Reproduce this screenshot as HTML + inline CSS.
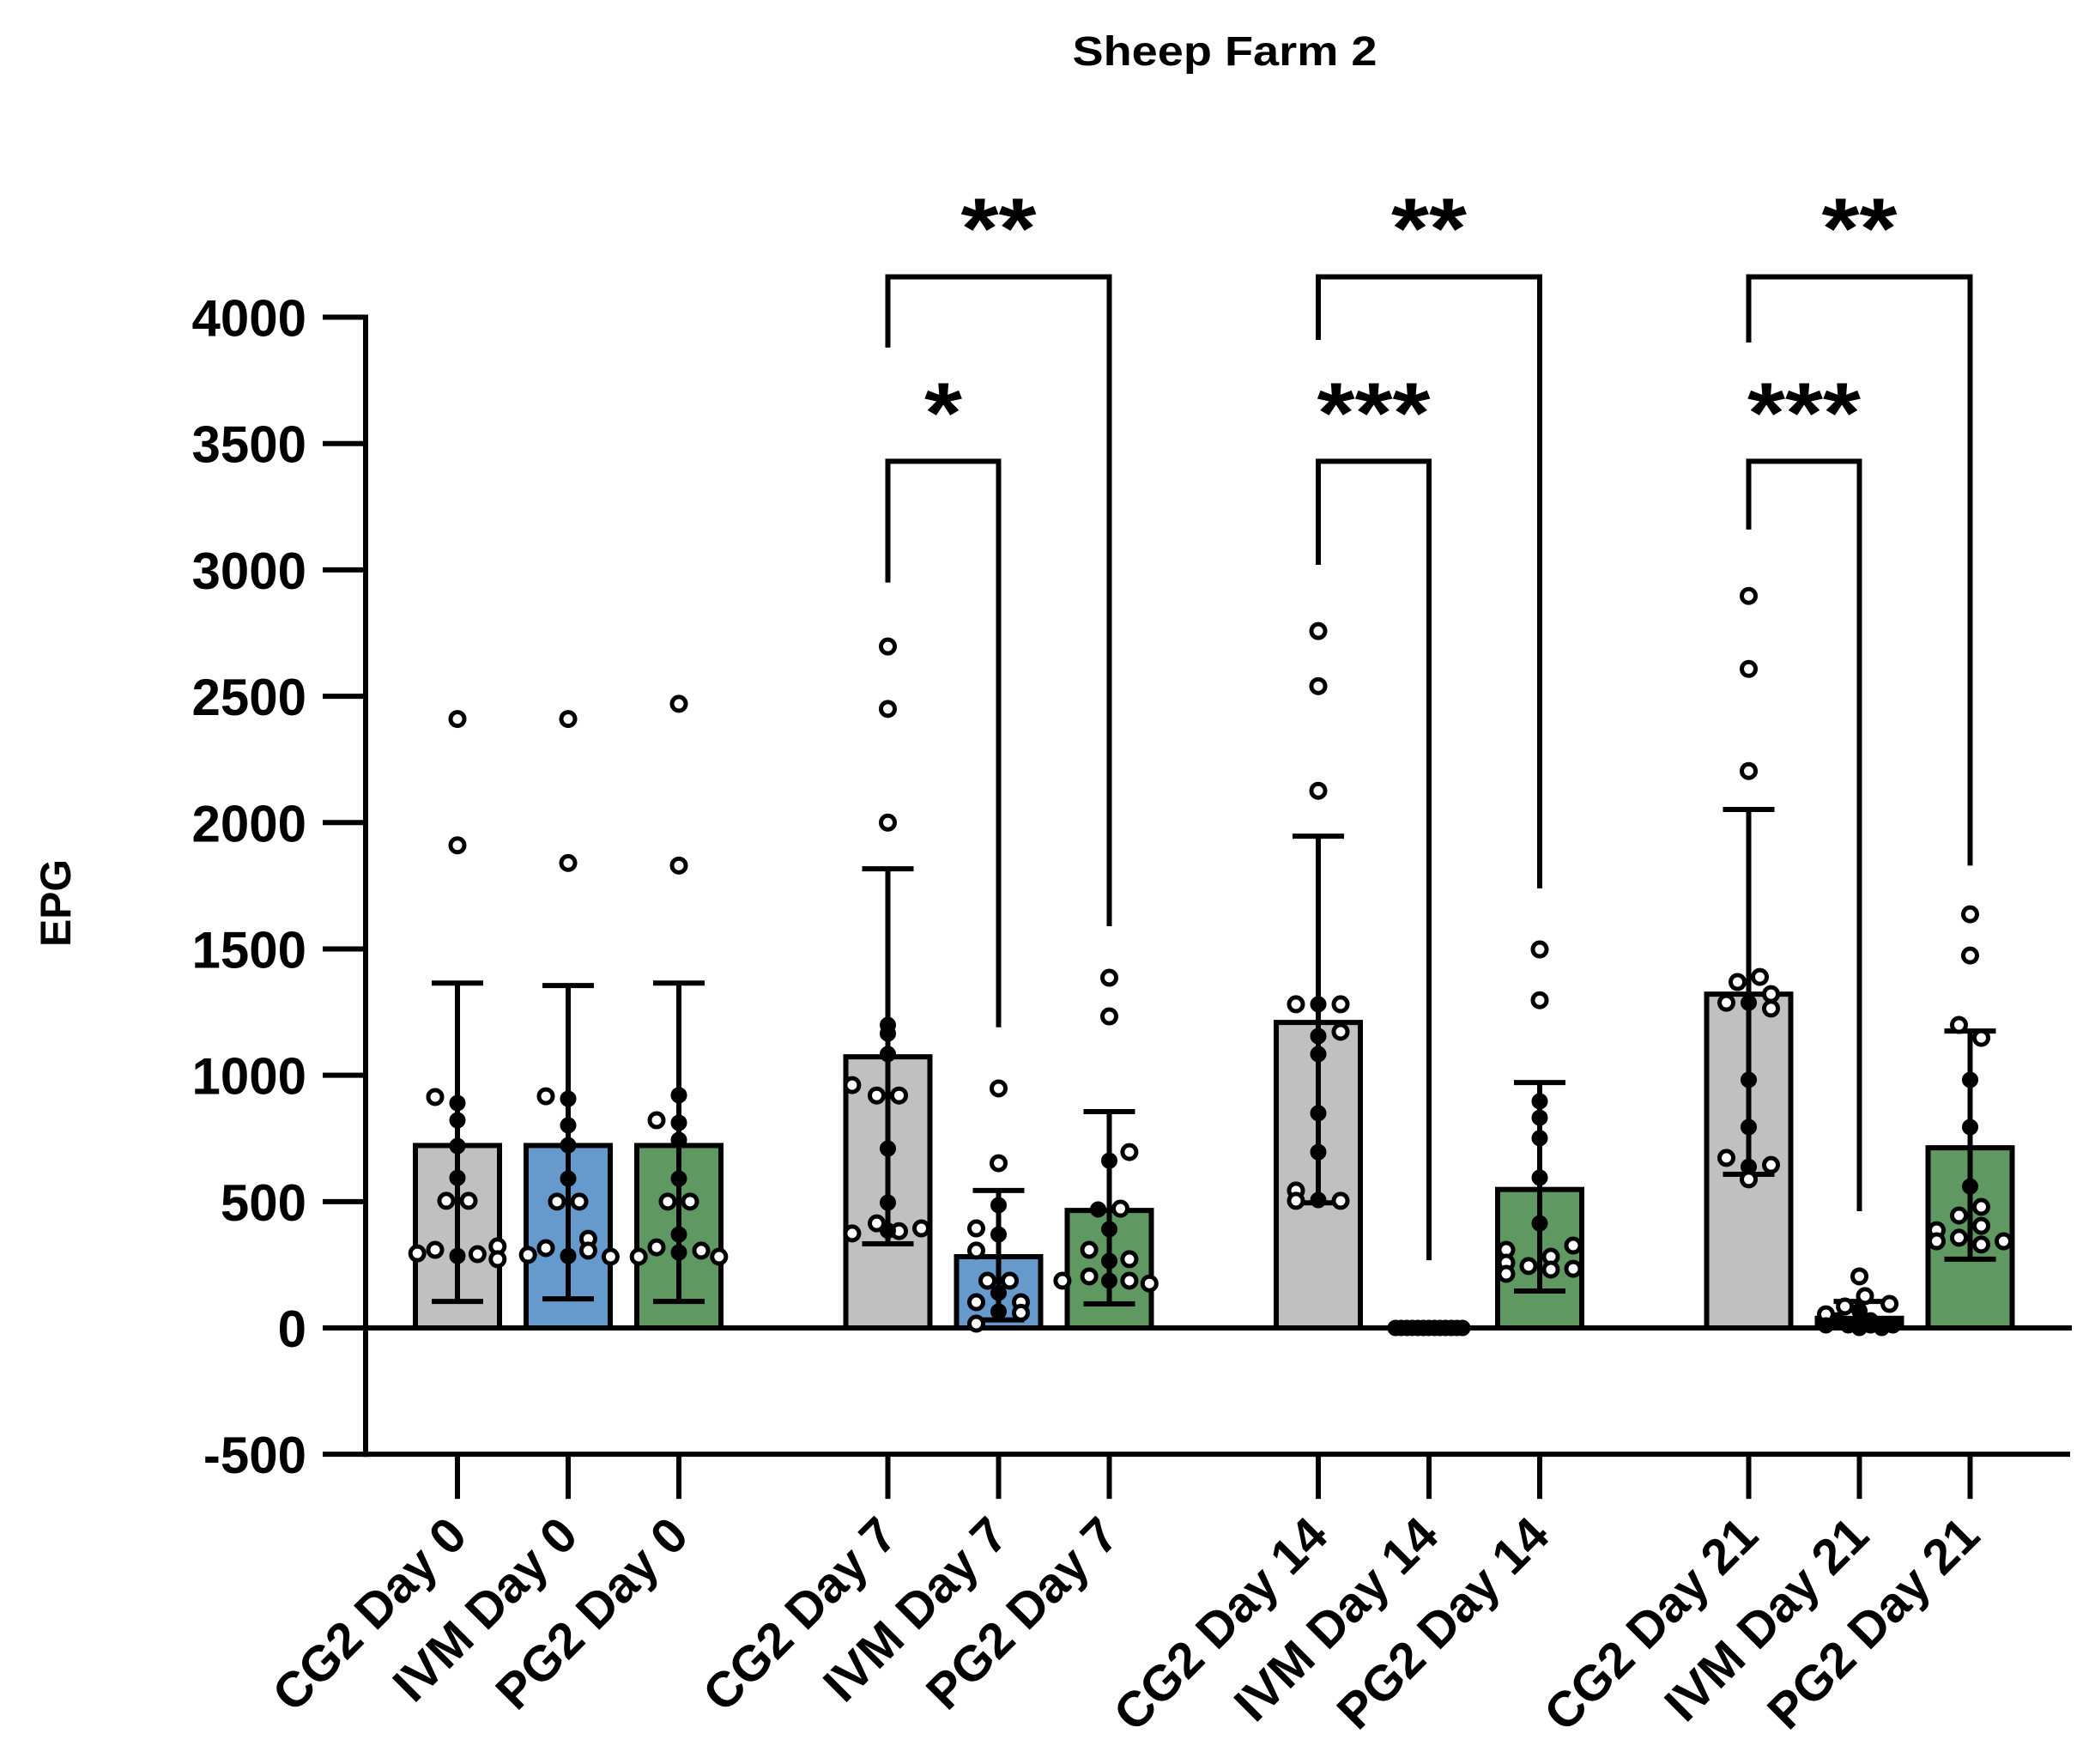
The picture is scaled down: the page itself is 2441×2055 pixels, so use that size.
<!DOCTYPE html>
<html><head><meta charset="utf-8"><style>
html,body{margin:0;padding:0;background:#fff;}
svg{display:block;font-family:"Liberation Sans",sans-serif;}
</style></head><body>
<svg id="chart" width="2441" height="2055" viewBox="0 0 2441 2055" xmlns="http://www.w3.org/2000/svg">
<text x="1427" y="76" font-size="48" font-weight="bold" text-anchor="middle" textLength="355" lengthAdjust="spacingAndGlyphs">Sheep Farm 2</text>
<text transform="translate(82,1052) rotate(-90)" font-size="50" font-weight="bold" text-anchor="middle" textLength="102" lengthAdjust="spacingAndGlyphs">EPG</text>
<g id="axes"></g><g id="bars"></g><g id="errs"></g><g id="dots"></g><g id="sig"></g><g id="xlabels"></g>
</svg>
<script>
const categories=["CG2 Day 0","IVM Day 0","PG2 Day 0","CG2 Day 7","IVM Day 7","PG2 Day 7","CG2 Day 14","IVM Day 14","PG2 Day 14","CG2 Day 21","IVM Day 21","PG2 Day 21"];
const means=[722,722,722,1073,282,465,1209,0,548,1321,38,713];
const errTop=[1365,1355,1365,1817,544,856,1946,0,971,2052,105,1175];
const errBottom=[105,115,105,333,32,95,495,0,146,608,0,272];
const yTicks=[4000,3500,3000,2500,2000,1500,1000,500,0,-500];
// points: [value, jitter slot, filled(1)/open(0)]
const pts0=[[2410,0,0],[1910,0,0],[914,-2,0],[890,0,1],[822,0,1],[720,0,1],[594,0,1],[503,-1,0],[503,1,0],[295,-3.6,0],[309,-2,0],[285,0,1],[292,1.8,0],[323,3.6,0],[272,3.6,0]];
const pts1=[[2410,0,0],[1840,0,0],[917,-2,0],[907,0,1],[802,0,1],[723,0,1],[591,0,1],[500,-1,0],[500,1,0],[289,-3.6,0],[316,-2,0],[285,0,1],[353,1.8,0],[306,1.8,0],[282,3.8,0]];
const pts2=[[2470,0,0],[1830,0,0],[921,0,1],[822,-2,0],[812,0,1],[744,0,1],[591,0,1],[500,-1,0],[500,1,0],[370,0,1],[319,-2,0],[299,0,1],[306,2,0],[282,-3.6,0],[282,3.6,0]];
const pts3=[[2697,0,0],[2450,0,0],[2000,0,0],[1199,0,1],[1165,0,1],[1084,0,1],[961,-3.2,0],[920,-1,0],[920,1,0],[710,0,1],[496,0,1],[414,-1,0],[374,-3.2,0],[383,1,0],[394,3,0],[385,0,1]];
const pts4=[[948,0,0],[652,0,0],[486,0,1],[370,0,1],[394,-2,0],[306,-2,0],[187,-1,0],[187,1,0],[139,0,1],[102,-2,0],[102,2,0],[65,0,1],[60,2,0],[17,-2,0]];
const pts5=[[1386,0,0],[1233,0,0],[662,0,1],[696,1.8,0],[469,-1,1],[472,1,0],[391,0,1],[309,-1.8,0],[272,1.8,0],[265,0,1],[204,-1.8,0],[187,0,1],[187,-4.2,0],[187,1.8,0],[176,3.6,0]];
const pts6=[[2758,0,0],[2540,0,0],[2126,0,0],[1281,-2,0],[1281,0,1],[1281,2,0],[1172,2,0],[1155,0,1],[1084,0,1],[850,0,1],[696,0,1],[544,-2,0],[503,-2,0],[506,0,1],[503,2,0]];
const pts7=[[0,-3,1],[0,-2.5,1],[0,-2,1],[0,-1.5,1],[0,-1,1],[0,-0.5,1],[0,0,1],[0,0.5,1],[0,1,1],[0,1.5,1],[0,2,1],[0,2.5,1],[0,3,1]];
const pts8=[[1498,0,0],[1297,0,0],[897,0,1],[832,0,1],[751,0,1],[595,0,1],[414,0,1],[309,-3,0],[258,-3,0],[214,-3,0],[245,-1,0],[282,1,0],[231,1,0],[326,3,0],[234,3,0]];
const pts9=[[2897,0,0],[2608,0,0],[2204,0,0],[1369,-1,0],[1389,1,0],[1287,0,1],[1287,-2,0],[1321,2,0],[1264,2,0],[982,0,1],[795,0,1],[673,-2,0],[645,2,0],[638,0,1],[588,0,0]];
const pts10=[[204,0,0],[126,0.5,0],[95,2.7,0],[85,-1.3,0],[68,0,1],[54,-3,0],[30,-2,1],[30,1,1],[10,-3,1],[10,-1,1],[10,1,1],[10,3,1],[0,0,1],[0,2,1]];
const pts11=[[1637,0,0],[1474,0,0],[1199,-1,0],[1148,1,0],[982,0,1],[795,0,1],[560,0,1],[479,1,0],[445,-1,0],[404,1,0],[357,-1,0],[330,1,0],[387,-3,0],[343,-3,0],[343,3,0]];
const points=[pts0,pts1,pts2,pts3,pts4,pts5,pts6,pts7,pts8,pts9,pts10,pts11];
// significance brackets: [left index, right index, bar level, left leg end, right leg end, stars]
const brackets=[[3,5,4160,3880,1590,"**"],[3,4,3430,2950,1190,"*"],[6,8,4160,3910,1740,"**"],[6,7,3430,3020,268,"***"],[9,11,4160,3900,1830,"**"],[9,10,3430,3160,462,"***"]];
const colors=["#c0c0c0","#6699cc","#5f9961"];

const NS="http://www.w3.org/2000/svg";
function y(v){return 1547 - v*0.29436;}
function x(i){const g=Math.floor(i/3),k=i%3;return 533+g*501.5+k*129;}
function mk(tag,attrs,parent){const e=document.createElementNS(NS,tag);for(const k in attrs)e.setAttribute(k,attrs[k]);parent.appendChild(e);return e;}
const axes=document.getElementById('axes'),bars=document.getElementById('bars'),errs=document.getElementById('errs'),dots=document.getElementById('dots'),sig=document.getElementById('sig'),xl=document.getElementById('xlabels');
const SW=6;
let e;
e=mk('line',{x1:426,x2:426,y1:y(4000)-3,y2:y(-500)+3,stroke:'#000','stroke-width':SW},axes);


e=mk('line',{x1:426,x2:2414,y1:y(0),y2:y(0),stroke:'#000','stroke-width':SW},axes);


e=mk('line',{x1:423,x2:2412,y1:y(-500),y2:y(-500),stroke:'#000','stroke-width':SW},axes);


yTicks.forEach(t=>{
  e=mk('line',{x1:376,x2:426,y1:y(t),y2:y(t),stroke:'#000','stroke-width':SW},axes);
  
  
  e=mk('text',{x:357,y:y(t)+22,'font-size':60,'font-weight':'bold','text-anchor':'end'},axes);
  e.textContent=String(t);
  
  
});
categories.forEach((c,i)=>{
  const cx=x(i);
  e=mk('line',{x1:cx,x2:cx,y1:y(-500),y2:y(-500)+52,stroke:'#000','stroke-width':SW},axes);
  
  
  e=mk('text',{transform:`translate(${cx+14},${1792}) rotate(-45)`,'font-size':58,'font-weight':'bold','text-anchor':'end'},xl);
  e.textContent=c;
  
  
  const top=y(means[i]),bot=y(0);
  if(means[i]>0){
    e=mk('rect',{x:cx-49,y:top,width:98,height:bot-top,fill:colors[i%3],stroke:'#000','stroke-width':SW},bars);
    
    
  }
  if(errTop[i]>errBottom[i]){
    e=mk('path',{d:`M${cx},${y(errTop[i])}V${y(errBottom[i])}M${cx-30},${y(errTop[i])}H${cx+30}M${cx-30},${y(errBottom[i])}H${cx+30}`,stroke:'#000','stroke-width':SW,fill:'none'},errs);
    
    
  }
  points[i].forEach(p=>{
    const filled=p[2]===1;
    e=mk('circle',{cx:cx+p[1]*13,cy:y(p[0]),r:filled?8.5:8,fill:filled?'#000':'#fff',stroke:'#000','stroke-width':filled?2:5},dots);
    
    
  });
});
brackets.forEach(b=>{
  const x1=x(b[0]),x2=x(b[1]),yb=y(b[2]);
  e=mk('path',{d:`M${x1},${y(b[3])}V${yb}H${x2}V${y(b[4])}`,stroke:'#000','stroke-width':SW,fill:'none'},sig);
  
  
  const n=b[5].length;
  e=mk('text',{x:(x1+x2)/2,y:yb-22,'font-size':100,'font-weight':'bold','text-anchor':'middle',textLength:n*44,lengthAdjust:'spacingAndGlyphs'},sig);
  e.textContent=b[5];
  
  
});
</script>
</body></html>
